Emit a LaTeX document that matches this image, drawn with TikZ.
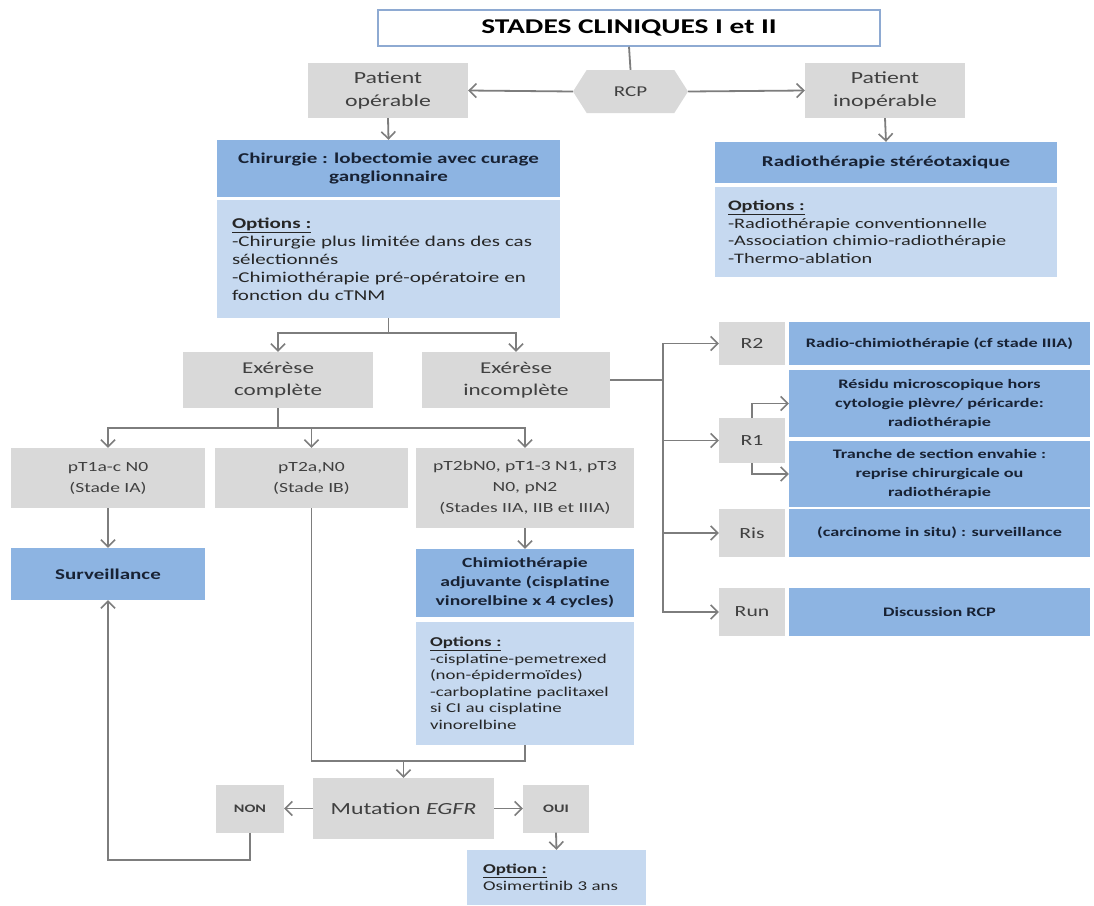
\documentclass[tikz,border=0pt]{standalone}
\usepackage{fontspec}
\setmainfont{Carlito}[FakeStretch=1.4]
\usetikzlibrary{arrows.meta,shapes.symbols}
\definecolor{boxgray}{RGB}{217,217,217}
\definecolor{hdrblue}{RGB}{141,180,226}
\definecolor{optblue}{RGB}{198,217,240}
\definecolor{linegray}{RGB}{125,125,125}
\definecolor{titleframe}{RGB}{142,170,210}
\definecolor{graytext}{RGB}{64,64,64}
\definecolor{navytext}{RGB}{24,34,52}
\definecolor{opttext}{RGB}{38,38,38}
\newcommand{\fsz}[2]{\fontsize{#1}{#2}\selectfont}
\newcommand{\opthead}[1]{\underline{\textbf{#1}}}

\begin{document}
\begin{tikzpicture}[x=1pt,y=-1pt,
  box/.style={rectangle, inner sep=0pt, align=center},
  graybox/.style={box, fill=boxgray, text=graytext},
  hdrbox/.style={box, fill=hdrblue, text=navytext},
  optbox/.style={rectangle, fill=optblue, text=opttext, align=left, inner xsep=15pt, inner ysep=0pt},
  conn/.style={draw=linegray, line width=1.8pt},
  arr/.style={conn, -{Straight Barb[length=7pt,width=14pt,line width=1.6pt]}},
]
\fill[white] (0,0) rectangle (1094,905);
\useasboundingbox (0,0) rectangle (1094,905);

% --- top: title, RCP and the two patient groups
\node[box, draw=titleframe, line width=1.5pt, fill=white, minimum width=502pt, minimum height=36pt,
      font=\fsz{21}{24}\bfseries] (title) at (629,28) {STADES CLINIQUES I et II};
\node[signal, signal to=east and west, signal pointer angle=115, fill=boxgray, text=graytext,
      minimum width=115pt, minimum height=43pt, inner sep=0pt, font=\fsz{15}{18}] (rcp) at (630.5,91.5) {RCP};
\node[graybox, minimum width=160pt, minimum height=55pt, font=\fsz{17}{23}] (po) at (388,90.5) {Patient\\opérable};
\node[graybox, minimum width=160pt, minimum height=55pt, font=\fsz{17}{23}] (pi) at (885,90.5) {Patient\\inopérable};

% --- surgery branch
\node[hdrbox, minimum width=343pt, minimum height=57pt, font=\fsz{15}{18}\bfseries] (chh) at (388.5,168.5)
  {Chirurgie : lobectomie avec curage\\ganglionnaire};
\node[optbox, text width=313pt, minimum height=118pt, font=\fsz{15}{18}] (cho) at (388.5,259)
  {\opthead{Options :}\\-Chirurgie plus limitée dans des cas\\sélectionnés\\-Chimiothérapie pré-opératoire en\\fonction du cTNM};

% --- radiotherapy branch
\node[hdrbox, minimum width=342pt, minimum height=41pt, font=\fsz{15}{18}\bfseries] (rah) at (886,162.5)
  {Radiothérapie stéréotaxique};
\node[optbox, inner xsep=13pt, text width=316pt, minimum height=90pt, font=\fsz{14.5}{17.5}] (rao) at (886,232)
  {\opthead{Options :}\\-Radiothérapie conventionnelle\\-Association chimio-radiothérapie\\-Thermo-ablation};

% --- resection result
\node[graybox, minimum width=190pt, minimum height=56pt, font=\fsz{16.5}{22}] (exc) at (278,380) {Exérèse\\complète};
\node[graybox, minimum width=188pt, minimum height=56pt, font=\fsz{16.5}{22}] (exi) at (516,380) {Exérèse\\incomplète};

% --- pathological stages
\node[graybox, minimum width=194pt, minimum height=60pt, font=\fsz{14}{21}] (pt1) at (108,478) {pT1a-c N0\\(Stade IA)};
\node[graybox, minimum width=193pt, minimum height=60pt, font=\fsz{14}{21}] (pt2a) at (311.5,478) {pT2a,N0\\(Stade IB)};
\node[graybox, minimum width=218pt, minimum height=80pt, font=\fsz{14}{21}] (pt2b) at (525,488)
  {pT2bN0, pT1-3 N1, pT3\\N0, pN2\\(Stades IIA, IIB et IIIA)};

\node[hdrbox, minimum width=194pt, minimum height=52pt, font=\fsz{15}{18}\bfseries] (surv) at (108,574) {Surveillance};
\node[hdrbox, minimum width=218pt, minimum height=68pt, font=\fsz{14}{19}\bfseries] (cmh) at (525,583)
  {Chimiothérapie\\adjuvante (cisplatine\\vinorelbine x 4 cycles)};
\node[optbox, inner xsep=14pt, text width=190pt, minimum height=123pt, font=\fsz{13.5}{16.5}] (cmo) at (525,683.5)
  {\opthead{Options :}\\-cisplatine-pemetrexed\\(non-épidermoïdes)\\-carboplatine paclitaxel\\si CI au cisplatine\\vinorelbine};

% --- EGFR status
\node[graybox, minimum width=181pt, minimum height=61pt, font=\fsz{17}{20}] (mut) at (403.5,808.5) {Mutation \textit{EGFR}};
\node[graybox, minimum width=68pt, minimum height=48pt, font=\fsz{11.5}{14}\bfseries] (non) at (250,808.5) {NON};
\node[graybox, minimum width=66pt, minimum height=48pt, font=\fsz{11.5}{14}\bfseries] (oui) at (556,808.5) {OUI};
\node[optbox, inner xsep=16pt, text width=147pt, minimum height=55pt, font=\fsz{13.5}{16.5}] (opt) at (556.5,877.5)
  {\opthead{Option :}\\Osimertinib 3 ans};

% --- incomplete resection: residual classes
\node[graybox, minimum width=66pt, minimum height=43pt, font=\fsz{15.5}{18}] (r2) at (752,343.5) {R2};
\node[graybox, minimum width=66pt, minimum height=45pt, font=\fsz{15.5}{18}] (r1) at (752,440.5) {R1};
\node[graybox, minimum width=66pt, minimum height=48pt, font=\fsz{15.5}{18}] (ris) at (752,533) {Ris};
\node[graybox, minimum width=66pt, minimum height=48pt, font=\fsz{15.5}{18}] (run) at (752,612) {Run};

\node[hdrbox, minimum width=301pt, minimum height=43pt, font=\fsz{13}{19}\bfseries] (r2b) at (939.5,343.5)
  {Radio-chimiothérapie (cf stade IIIA)};
\node[hdrbox, minimum width=301pt, minimum height=67pt, font=\fsz{13}{19}\bfseries] (r1a) at (939.5,403.5)
  {Résidu microscopique hors\\cytologie plèvre/ péricarde:\\radiothérapie};
\node[hdrbox, minimum width=301pt, minimum height=66pt, font=\fsz{13}{19}\bfseries] (r1b) at (939.5,474)
  {Tranche de section envahie :\\reprise chirurgicale ou\\radiothérapie};
\node[hdrbox, minimum width=301pt, minimum height=48pt, font=\fsz{13}{19}\bfseries] (risb) at (939.5,533)
  {(carcinome in situ) : surveillance};
\node[hdrbox, minimum width=301pt, minimum height=48pt, font=\fsz{13}{19}\bfseries] (runb) at (939.5,612)
  {Discussion RCP};

% --- connectors
\draw[conn] (title.south) -- (rcp.north);
\draw[arr] (rcp.west) -- (po.east);
\draw[arr] (rcp.east) -- (pi.west);
\draw[arr] (po.south) -- (chh.north);
\draw[arr] (pi.south) -- (rah.north);

\coordinate (b1) at (388.5,333);
\draw[conn] (cho.south) -- (b1);
\draw[arr] (b1) -| (exc.north);
\draw[arr] (b1) -| (exi.north);

\coordinate (b2) at (278,428);
\draw[conn] (exc.south) -- (b2);
\draw[arr] (b2) -| (pt1.north);
\draw[arr] (b2) -| (pt2a.north);
\draw[arr] (b2) -| (pt2b.north);
\draw[arr] (pt1.south) -- (surv.north);
\draw[arr] (pt2b.south) -- (cmh.north);

\coordinate (b3) at (403.5,761);
\draw[conn] (pt2a.south) |- (b3) -| (cmo.south);
\draw[arr] (b3) -- (mut.north);
\draw[arr] (mut.west) -- (non.east);
\draw[arr] (mut.east) -- (oui.west);
\draw[arr] (oui.south) -- (opt.north);
\draw[arr] (non.south) -- ++(0,27) -| (surv.south);

\coordinate (tk) at (663,380);
\draw[conn] (exi.east) -- (tk);
\draw[arr] (tk) |- (r2.west);
\draw[arr] (tk) |- (run.west);
\draw[arr] (tk |- r1.west) -- (r1.west);
\draw[arr] (tk |- ris.west) -- (ris.west);
\draw[arr] (r1.north) |- (r1a.west);
\draw[arr] (r1.south) |- (r1b.west);
\end{tikzpicture}
\end{document}
